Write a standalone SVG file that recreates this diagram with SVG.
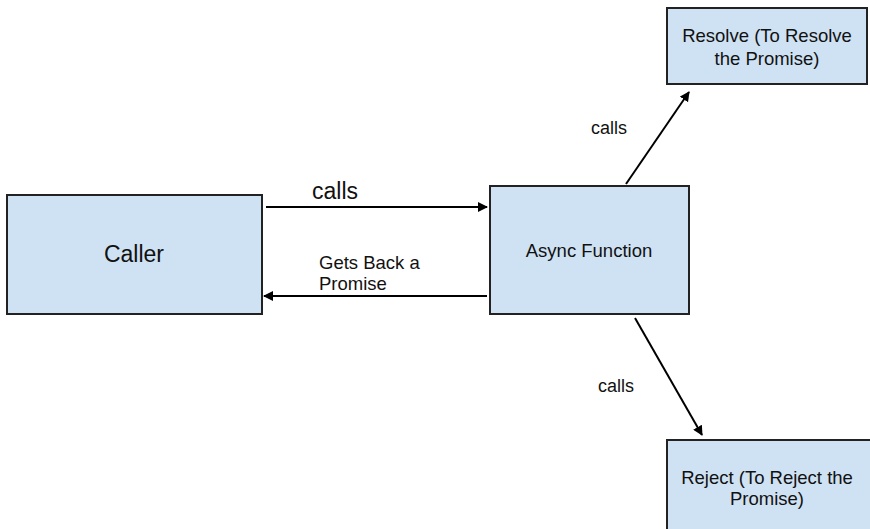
<svg xmlns="http://www.w3.org/2000/svg" width="870" height="529" viewBox="0 0 870 529">
<defs>
<style>
.box{fill:#cfe2f3;stroke:#222;stroke-width:2}
.t{font-family:"Liberation Sans",Arial,sans-serif;fill:#111}
.c{stroke:#000;stroke-width:2;fill:none}
</style>
<marker id="ah" markerWidth="10" markerHeight="10" refX="9" refY="5" orient="auto" markerUnits="userSpaceOnUse"><path d="M0,0 L10,5 L0,10 Z" fill="#000"/></marker>
</defs>
<rect width="870" height="529" fill="#fff"/>
<g id="caller"><rect class="box" x="7" y="195" width="255" height="119"/><text class="t" x="134" y="262" font-size="23" text-anchor="middle">Caller</text></g>
<g id="async"><rect class="box" x="490" y="186" width="199" height="128"/><text class="t" x="589" y="257" font-size="18.5" text-anchor="middle">Async Function</text></g>
<g id="resolve"><rect class="box" x="667" y="8" width="200" height="76"/><text class="t" x="767" y="42" font-size="18.5" text-anchor="middle">Resolve (To Resolve</text><text class="t" x="767" y="65" font-size="18.5" text-anchor="middle">the Promise)</text></g>
<g id="reject"><rect class="box" x="667" y="440" width="210" height="100"/><text class="t" x="767" y="484" font-size="18.5" text-anchor="middle">Reject (To Reject the</text><text class="t" x="767" y="505" font-size="18.5" text-anchor="middle">Promise)</text></g>
<g id="connectors">
<line class="c" x1="266" y1="207" x2="487" y2="207" marker-end="url(#ah)"/>
<line class="c" x1="487" y1="296" x2="264" y2="296" marker-end="url(#ah)"/>
<line class="c" x1="626" y1="184" x2="689" y2="92" marker-end="url(#ah)"/>
<line class="c" x1="635" y1="318" x2="702" y2="435" marker-end="url(#ah)"/>
<text class="t" x="312" y="199" font-size="23">calls</text>
<text class="t" x="319" y="269" font-size="18.5">Gets Back a</text>
<text class="t" x="319" y="290" font-size="18.5">Promise</text>
<text class="t" x="591" y="134" font-size="18">calls</text>
<text class="t" x="598" y="392" font-size="18">calls</text>
</g>
</svg>
